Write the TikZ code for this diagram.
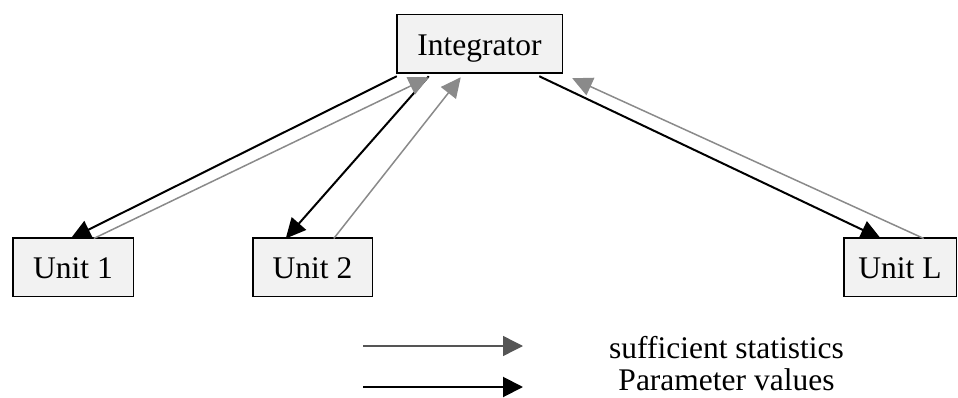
\documentclass[tikz,border=0pt]{standalone}
\usepackage{fontspec}
\setmainfont{Liberation Serif}
\usetikzlibrary{arrows.meta}
\definecolor{boxfill}{HTML}{F2F2F2}
\definecolor{midgray}{HTML}{8A8A8A}
\definecolor{darkgray}{HTML}{555555}
\begin{document}
\begin{tikzpicture}[x=1pt,y=-1pt,
  unitbox/.style={draw=black,line width=1.5pt,fill=boxfill,inner sep=0pt,outer sep=0pt,
    minimum height=58.5pt,text height=23pt,text depth=0pt,
    font=\fontsize{31.5}{36}\selectfont},
  paramarrow/.style={draw=black,line width=2pt,-{Triangle[length=20pt,width=19pt]}},
  statarrow/.style={draw=midgray,line width=1.5pt,-{Triangle[length=20pt,width=19pt]}},
  legstat/.style={draw=darkgray,line width=1.4pt,-{Triangle[length=20pt,width=20pt]}},
  legparam/.style={draw=black,line width=2pt,-{Triangle[length=20pt,width=20pt]}},
  legtext/.style={anchor=base,inner sep=0pt,font=\fontsize{31.5}{36}\selectfont}]
\useasboundingbox (0,0) rectangle (958,398);
\node[unitbox,minimum width=165.5pt] (int) at (479.5,44) {Integrator};
\node[unitbox,minimum width=120.5pt] (u1) at (73,267) {Unit 1};
\node[unitbox,minimum width=119.5pt] (u2) at (312.5,267) {Unit 2};
\node[unitbox,minimum width=112.5pt] (uL) at (900,267) {Unit L};
% parameter values (black)
\draw[paramarrow] ([yshift=-3pt]int.south west) -- ([xshift=58pt,yshift=-0.75pt]u1.north west);
\draw[paramarrow] ([xshift=32pt,yshift=-3pt]int.south west) -- ([xshift=33pt,yshift=-0.75pt]u2.north west);
\draw[paramarrow] ([xshift=-23pt,yshift=-3pt]int.south east) -- ([xshift=37pt,yshift=-0.75pt]uL.north west);
% sufficient statistics (gray)
\draw[statarrow] ([xshift=81pt,yshift=-0.75pt]u1.north west) -- ([xshift=32pt,yshift=-4pt]int.south west);
\draw[statarrow] ([xshift=81pt,yshift=-0.75pt]u2.north west) -- ([xshift=64pt,yshift=-4pt]int.south west);
\draw[statarrow] ([xshift=80pt,yshift=-0.75pt]uL.north west) -- ([xshift=10pt,yshift=-5pt]int.south east);
% legend
\coordinate (ls1) at (363,346);
\coordinate (le1) at (523,346);
\coordinate (ls2) at (363,387);
\coordinate (le2) at (523,387);
\draw[legstat] (ls1) -- (le1);
\draw[legparam] (ls2) -- (le2);
\node[legtext] (t1) at (726.5,358) {sufficient statistics};
\node[legtext] (t2) at (726.5,390) {Parameter values};
\end{tikzpicture}
\end{document}
